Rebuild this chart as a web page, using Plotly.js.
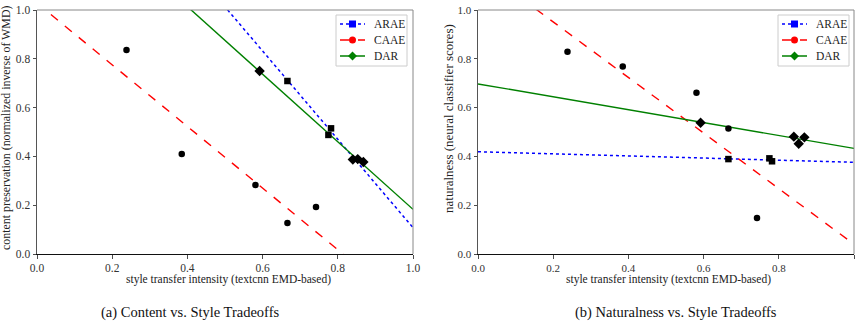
<!DOCTYPE html>
<html>
<head>
<meta charset="utf-8">
<script src="https://cdn.plot.ly/plotly-3.0.1.min.js"></script>
<style>
  html, body { margin: 0; padding: 0; background: #fff; }
  #chart { width: 861px; height: 324px; }
</style>
</head>
<body>
<div id="chart"></div>
<script>
// Style transfer intensity (textcnn EMD-based) per model run
const caaeIntensity = [0.238, 0.385, 0.581, 0.666, 0.742];
const araeIntensity = [0.666, 0.775, 0.782];
const darIntensity  = [0.592, 0.840, 0.853, 0.868];

// Content preservation (normalized inverse of WMD)
const caaeContent = [0.836, 0.410, 0.283, 0.127, 0.193];
const araeContent = [0.709, 0.488, 0.515];
const darContent  = [0.750, 0.387, 0.389, 0.377];

// Naturalness (neural classifier scores)
const caaeNatural = [0.829, 0.768, 0.661, 0.514, 0.148];
const araeNatural = [0.389, 0.392, 0.380];
const darNatural  = [0.538, 0.481, 0.452, 0.478];

// Linear fits, evaluated at intensity 0 and 1
const fitX = [0, 1];
const araeContentFit = [1.918, 0.108];
const caaeContentFit = [1.028, -0.235];
const darContentFit  = [1.568, 0.183];
const araeNaturalFit = [0.419, 0.376];
const caaeNaturalFit = [1.179, 0.040];
const darNaturalFit  = [0.697, 0.433];

const tickVals = [0, 0.2, 0.4, 0.6, 0.8, 1.0];
const tickText = ['0.0', '0.2', '0.4', '0.6', '0.8', '1.0'];
const modelNames = ['ARAE', 'CAAE', 'DAR'];

const models = [
  { color: '#0000ff', dash: 'dot',   symbol: 'square',  msize: 6.5 },
  { color: '#ff0000', dash: 'dash',  symbol: 'circle',  msize: 6.5 },
  { color: '#008000', dash: 'solid', symbol: 'diamond', msize: 8 }
];

const serif = "'Liberation Serif', 'Times New Roman', Times, serif";

function panel(xa, ya, pts, fits) {
  const out = [];
  // regression lines
  models.forEach((m, i) => {
    out.push({
      x: fitX, y: fits[i], xaxis: xa, yaxis: ya, mode: 'lines', name: modelNames[i],
      line: { color: m.color, dash: m.dash, width: m.dash === 'dot' ? 1.5 : 1.4 },
      showlegend: false, hoverinfo: 'skip'
    });
  });
  // observed points (black)
  models.forEach((m, i) => {
    out.push({
      x: pts[i][0], y: pts[i][1], xaxis: xa, yaxis: ya, mode: 'markers', name: modelNames[i],
      marker: { symbol: m.symbol, size: m.msize, color: '#000' },
      showlegend: false
    });
  });
  return out;
}

const data = [].concat(
  panel('x', 'y',
    [[araeIntensity, araeContent], [caaeIntensity, caaeContent], [darIntensity, darContent]],
    [araeContentFit, caaeContentFit, darContentFit]),
  panel('x2', 'y2',
    [[araeIntensity, araeNatural], [caaeIntensity, caaeNatural], [darIntensity, darNatural]],
    [araeNaturalFit, caaeNaturalFit, darNaturalFit])
);

const W = 861, H = 324;
const px = v => v / W;
const py = v => 1 - v / H;

function xAxis(domain, anchor, fs) {
  return {
    domain: domain, anchor: anchor, range: [0, 1],
    tickvals: tickVals, ticktext: tickText,
    ticks: 'outside', ticklen: 3.5, tickwidth: 0.8, tickcolor: '#222',
    showline: true, linecolor: '#111', linewidth: 1, mirror: false,
    showgrid: false, zeroline: false, fixedrange: true,
    tickfont: { family: serif, size: fs, color: '#333' }
  };
}
function yAxis(anchor, fs) {
  return {
    domain: [py(254), py(10)], anchor: anchor, range: [0, 1],
    tickvals: tickVals, ticktext: tickText,
    ticks: 'outside', ticklen: 3.5, tickwidth: 0.8, tickcolor: '#222',
    showline: true, linecolor: '#555', linewidth: 1, mirror: false,
    showgrid: false, zeroline: false, fixedrange: true,
    tickfont: { family: serif, size: fs, color: '#333' }
  };
}

// top and right frame edges, lighter than the bottom/left spines
function frame(xr, yr) {
  return [
    { type: 'line', xref: xr + ' domain', yref: yr + ' domain', x0: 0, x1: 1, y0: 1, y1: 1,
      line: { color: '#888', width: 1 }, layer: 'above' },
    { type: 'line', xref: xr + ' domain', yref: yr + ' domain', x0: 1, x1: 1, y0: 0, y1: 1,
      line: { color: '#888', width: 1 }, layer: 'above' }
  ];
}

// compact legend box (line sample + marker + label per model), anchored at its top-left corner
function legendBox(left, top) {
  const shapes = [], notes = [];
  const boxW = 71, boxH = 51, rowH = 16;
  shapes.push({ type: 'rect', xref: 'paper', yref: 'paper',
    x0: px(left), x1: px(left + boxW), y0: py(top + boxH), y1: py(top),
    line: { color: '#cccccc', width: 1 }, fillcolor: 'rgba(255,255,255,0.85)', layer: 'above' });
  models.forEach((m, i) => {
    const cy = top + 9 + i * rowH;
    const cx = left + 16.5;
    shapes.push({ type: 'line', xref: 'paper', yref: 'paper',
      x0: px(left + 4), x1: px(left + 29), y0: py(cy), y1: py(cy),
      line: { color: m.color, dash: m.dash, width: 1.5 }, layer: 'above' });
    if (m.symbol === 'square') {
      shapes.push({ type: 'rect', xref: 'paper', yref: 'paper',
        x0: px(cx - 3.5), x1: px(cx + 3.5), y0: py(cy + 3.5), y1: py(cy - 3.5),
        line: { width: 0 }, fillcolor: m.color, layer: 'above' });
    } else if (m.symbol === 'circle') {
      shapes.push({ type: 'circle', xref: 'paper', yref: 'paper',
        x0: px(cx - 3.5), x1: px(cx + 3.5), y0: py(cy + 3.5), y1: py(cy - 3.5),
        line: { width: 0 }, fillcolor: m.color, layer: 'above' });
    } else {
      const r = 4.5;
      shapes.push({ type: 'path', xref: 'paper', yref: 'paper',
        path: `M ${px(cx)},${py(cy - r)} L ${px(cx + r)},${py(cy)} L ${px(cx)},${py(cy + r)} L ${px(cx - r)},${py(cy)} Z`,
        line: { width: 0 }, fillcolor: m.color, layer: 'above' });
    }
    notes.push({ text: modelNames[i], xref: 'paper', yref: 'paper',
      x: px(left + 36), y: py(cy), xanchor: 'left', yanchor: 'middle', showarrow: false,
      font: { family: serif, size: 11.5, color: '#222' } });
  });
  return { shapes, notes };
}

const legA = legendBox(336, 15);
const legB = legendBox(778, 15);

const layout = {
  width: W, height: H,
  margin: { l: 0, r: 0, t: 0, b: 0 },
  paper_bgcolor: '#fff', plot_bgcolor: '#fff',
  showlegend: false,
  xaxis: xAxis([px(37), px(413)], 'y', 11.5),
  yaxis: yAxis('x', 11.5),
  xaxis2: xAxis([px(478), px(854)], 'y2', 11),
  yaxis2: yAxis('x2', 11),
  shapes: [].concat(frame('x', 'y'), frame('x2', 'y2'), legA.shapes, legB.shapes),
  annotations: [
    { text: 'style transfer intensity (textcnn EMD-based)', xref: 'paper', yref: 'paper',
      x: px(229), y: py(279), showarrow: false, xanchor: 'center', yanchor: 'middle',
      font: { family: serif, size: 11.5, color: '#222' } },
    { text: 'style transfer intensity (textcnn EMD-based)', xref: 'paper', yref: 'paper',
      x: px(668), y: py(279), showarrow: false, xanchor: 'center', yanchor: 'middle',
      font: { family: serif, size: 11.5, color: '#222' } },
    { text: 'content preservation (normalized inverse of WMD)', xref: 'paper', yref: 'paper',
      x: px(6), y: py(128), textangle: -90, showarrow: false, xanchor: 'center', yanchor: 'middle',
      font: { family: serif, size: 11.9, color: '#222' } },
    { text: 'naturalness (neural classifier scores)', xref: 'paper', yref: 'paper',
      x: px(448), y: py(119), textangle: -90, showarrow: false, xanchor: 'center', yanchor: 'middle',
      font: { family: serif, size: 13, color: '#222' } },
    { text: '(a) Content vs. Style Tradeoffs', xref: 'paper', yref: 'paper',
      x: px(190), y: py(312), showarrow: false, xanchor: 'center', yanchor: 'middle',
      font: { family: serif, size: 14.5, color: '#111' } },
    { text: '(b) Naturalness vs. Style Tradeoffs', xref: 'paper', yref: 'paper',
      x: px(676), y: py(312), showarrow: false, xanchor: 'center', yanchor: 'middle',
      font: { family: serif, size: 14.5, color: '#111' } }
  ].concat(legA.notes, legB.notes)
};

Plotly.newPlot('chart', data, layout, { displayModeBar: false, staticPlot: true });
</script>
</body>
</html>
